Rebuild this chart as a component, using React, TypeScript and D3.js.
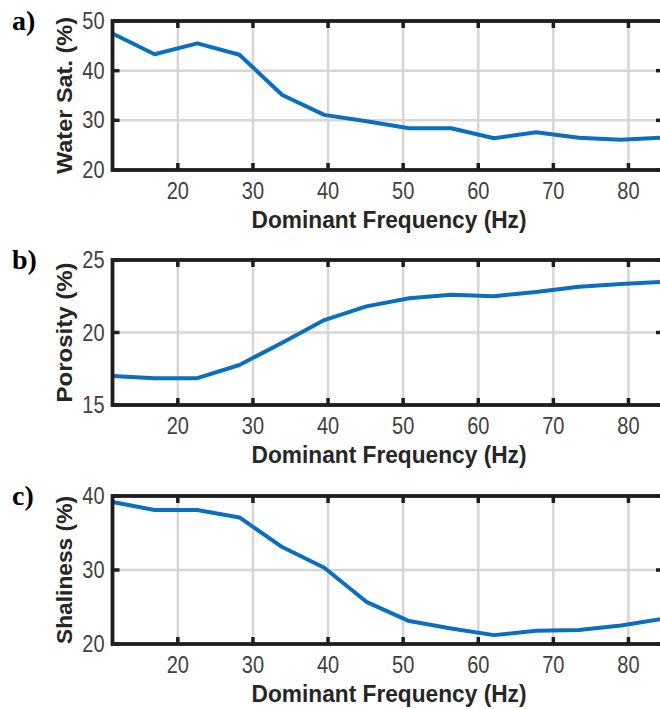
import React from "react";
import * as d3 from "d3";

const freq = [11.3, 16.9, 22.6, 28.2, 33.9, 39.5, 45.1, 50.8, 56.4, 62.1, 67.7, 73.4, 79.0, 84.6];
const waterSat = [47.5, 43.3, 45.5, 43.2, 35.1, 31.1, 29.8, 28.4, 28.4, 26.4, 27.6, 26.5, 26.1, 26.5];
const porosity = [17.0, 16.85, 16.85, 17.76, 19.3, 20.86, 21.8, 22.36, 22.6, 22.5, 22.8, 23.15, 23.35, 23.5];
const shaliness = [39.2, 38.1, 38.1, 37.1, 33.1, 30.3, 25.7, 23.1, 22.1, 21.2, 21.8, 21.9, 22.5, 23.4];
const xTicks = [20, 30, 40, 50, 60, 70, 80];
const panelNames = ["a)", "b)", "c)"];
const yTitles = ["Water Sat. (%)", "Porosity (%)", "Shaliness (%)"];
const yDomains: [number, number][] = [[20, 50], [15, 25], [20, 40]];
const yTickSets = [[20, 30, 40, 50], [15, 20, 25], [20, 30, 40]];
const xTitle = "Dominant Frequency (Hz)";

const series = [waterSat, porosity, shaliness];
const tops = [21, 260, 496];
const bottoms = [170, 405, 644];
const yTitleLen = [157, 140, 148];

const LEFT = 112.5;
const RIGHT = 663;
const SANS = "'Liberation Sans', Arial, sans-serif";

function Panel({ i }: { i: number }) {
  const x = d3.scaleLinear().domain([11.3, 84.6]).range([LEFT, RIGHT]);
  const y = d3.scaleLinear().domain(yDomains[i]).range([bottoms[i], tops[i]]);
  const line = d3
    .line<number>()
    .x((_, k) => x(freq[k]))
    .y((d) => y(d));
  const top = tops[i];
  const bot = bottoms[i];
  const midY = (top + bot) / 2;
  const tickLen = 7;
  return (
    <g>
      {xTicks.map((t) => (
        <line key={"gx" + t} x1={x(t)} x2={x(t)} y1={top} y2={bot} stroke="#d6d6d6" strokeWidth={2.5} />
      ))}
      {yTickSets[i].map((t) => (
        <line key={"gy" + t} x1={LEFT} x2={RIGHT} y1={y(t)} y2={y(t)} stroke="#d6d6d6" strokeWidth={2.5} />
      ))}
      <path d={line(series[i]) || ""} fill="none" stroke="#0a6fbd" strokeWidth={4} strokeLinejoin="round" />
      <rect x={LEFT} y={top} width={RIGHT - LEFT} height={bot - top} fill="none" stroke="#1e1e1e" strokeWidth={3.8} />
      {xTicks.map((t) => (
        <g key={"tx" + t}>
          <line x1={x(t)} x2={x(t)} y1={bot} y2={bot - tickLen} stroke="#1e1e1e" strokeWidth={3.5} />
          <line x1={x(t)} x2={x(t)} y1={top} y2={top + tickLen} stroke="#1e1e1e" strokeWidth={3.5} />
        </g>
      ))}
      {yTickSets[i].map((t) => (
        <g key={"ty" + t}>
          <line x1={LEFT} x2={LEFT + tickLen} y1={y(t)} y2={y(t)} stroke="#1e1e1e" strokeWidth={3.5} />
          <line x1={RIGHT} x2={RIGHT - tickLen} y1={y(t)} y2={y(t)} stroke="#1e1e1e" strokeWidth={3.5} />
        </g>
      ))}
      {xTicks.map((t) => (
        <text key={"lx" + t} transform={`translate(${x(t)},${bot + 29}) scale(1,1.15)`} textAnchor="middle" fontSize={20} fill="#404040"
          fontFamily={SANS}>{t}</text>
      ))}
      {yTickSets[i].map((t) => (
        <text key={"ly" + t} transform={`translate(${LEFT - 8},${y(t) + 8}) scale(1,1.15)`} textAnchor="end" fontSize={20} fill="#404040"
          fontFamily={SANS}>{t}</text>
      ))}
      <text transform={`translate(389,${bot + 58}) scale(1,1.12)`} textAnchor="middle" fontSize={21} fontWeight="bold" fill="#262626"
        fontFamily={SANS} textLength={275} lengthAdjust="spacingAndGlyphs">{xTitle}</text>
      <text transform={`translate(72,${midY}) rotate(-90)`} textAnchor="middle" fontSize={22} fontWeight="bold" fill="#262626"
        fontFamily={SANS} textLength={yTitleLen[i]} lengthAdjust="spacingAndGlyphs">{yTitles[i]}</text>
      <text x={12} y={top + 9} fontSize={28} fontWeight="bold" fill="#000"
        fontFamily="'Liberation Serif', 'Times New Roman', serif">{panelNames[i]}</text>
    </g>
  );
}

export default function App() {
  return (
    <svg width={660} height={709} style={{ position: "absolute", left: 0, top: 0, background: "#fff" }}>
      <rect x={0} y={0} width={660} height={709} fill="#fff" />
      {[0, 1, 2].map((i) => (
        <Panel key={i} i={i} />
      ))}
    </svg>
  );
}
